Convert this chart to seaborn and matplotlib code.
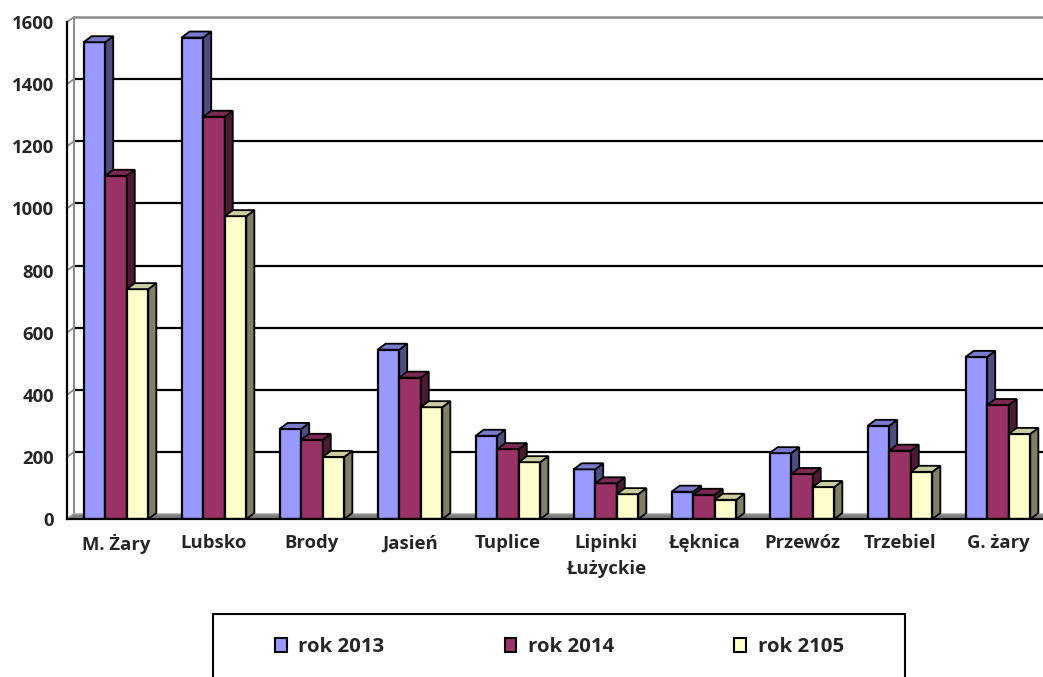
import numpy as np
import pandas as pd
import seaborn as sns
import matplotlib.pyplot as plt
from matplotlib.patches import Polygon, Patch, Rectangle
from matplotlib.transforms import ScaledTranslation

# dane
gminy = ["M. Żary", "Lubsko", "Brody", "Jasień", "Tuplice",
         "Lipinki\nŁużyckie", "Łęknica", "Przewóz", "Trzebiel", "G. żary"]
rok_2013 = [1535, 1550, 290, 545, 268, 160, 88, 212, 300, 522]
rok_2014 = [1105, 1295, 255, 455, 225, 115, 78, 145, 220, 367]
rok_2105 = [740, 975, 200, 360, 183, 80, 62, 103, 152, 274]
serie = ["rok 2013", "rok 2014", "rok 2105"]
y_ticks = [0, 200, 400, 600, 800, 1000, 1200, 1400, 1600]

df = pd.DataFrame({
    "gmina": gminy * 3,
    "seria": [s for s in serie for _ in gminy],
    "wartosc": rok_2013 + rok_2014 + rok_2105,
})

front = ["#9999FF", "#993366", "#FFFFCC"]
side = ["#4D4D80", "#4D1A33", "#808066"]
top = ["#7A7ACC", "#7A2952", "#CCCCA3"]

sns.set_style("white")
plt.rcParams["font.family"] = ["Open Sans", "DejaVu Sans"]
plt.rcParams["font.weight"] = "bold"
fs = 13.3
fs_leg = 14.7

fig = plt.figure(figsize=(10.43, 6.77), dpi=100)
ax = fig.add_axes([67 / 1043, 158 / 677, 980 / 1043, 497 / 677])

sns.barplot(data=df, x="gmina", y="wartosc", hue="seria", palette=front,
            width=0.66, gap=0, edgecolor="black", linewidth=1.6,
            saturation=1, legend=False, ax=ax)
ax.set_xlim(-0.5, len(gminy) - 0.5)
ax.set_ylim(0, 1600)


def px_to_data(dxp, dyp):
    p0 = ax.transData.transform((0, 0))
    p1 = ax.transData.inverted().transform(p0 + np.array([dxp, dyp]))
    return p1[0], p1[1]


# 3D: bok i gora slupkow
bdx, bdy = px_to_data(8, 6)
n = len(gminy)
for i, p in enumerate(list(ax.patches)):
    h_idx = i // n
    x, w, h = p.get_x(), p.get_width(), p.get_height()
    z = 3 + h_idx
    p.set_zorder(z)
    s = Polygon([(x + w, 0), (x + w + bdx, bdy), (x + w + bdx, h + bdy), (x + w, h)],
                closed=True, facecolor=side[h_idx], edgecolor="black", lw=1.3, zorder=z)
    t = Polygon([(x, h), (x + bdx, h + bdy), (x + w + bdx, h + bdy), (x + w, h)],
                closed=True, facecolor=top[h_idx], edgecolor="black", lw=1.3, zorder=z)
    ax.add_patch(s)
    ax.add_patch(t)

# sciana tylna, siatka, podloga
wdx, wdy = px_to_data(7, 5)
back = ax.transData + ScaledTranslation(7 / 100, 5 / 100, fig.dpi_scale_trans)
x0, x1 = ax.get_xlim()
for v in y_ticks[1:-1]:
    ax.plot([x0, x1], [v, v], transform=back, color="black", lw=1.6,
            zorder=1, clip_on=False)
ax.plot([x0, x1], [1600, 1600], transform=back, color="#8C8C8C", lw=1.8,
        zorder=1, clip_on=False)
ax.plot([x0, x0], [0, 1600], transform=back, color="#8C8C8C", lw=1.5,
        zorder=1, clip_on=False)
for v in y_ticks:
    ax.plot([x0, x0 + wdx], [v, v + wdy], color="#8C8C8C", lw=1.3,
            zorder=1.5, clip_on=False)
floor = Polygon([(x0, 0), (x1, 0), (x1 + wdx, wdy), (x0 + wdx, wdy)], closed=True,
                facecolor="#808080", edgecolor="#A0A0A0", lw=1, zorder=1.5,
                clip_on=False)
ax.add_patch(floor)

# osie
for sp in ["top", "right"]:
    ax.spines[sp].set_visible(False)
for sp in ["left", "bottom"]:
    ax.spines[sp].set_color("black")
    ax.spines[sp].set_linewidth(1.6)
    ax.spines[sp].set_zorder(6)

ax.set_yticks(y_ticks)
ax.set_yticklabels([str(v) for v in y_ticks], fontsize=fs, fontweight="bold")
ax.tick_params(axis="y", direction="out", length=6.5, width=1.5, color="black", pad=3)

ax.set_xticks(np.arange(-0.5, n, 1.0))
ax.set_xticklabels([])
ax.set_xticks(np.arange(n), minor=True)
ax.set_xticklabels(gminy, minor=True, fontsize=fs, fontweight="bold", linespacing=1.55)
ax.tick_params(axis="x", which="major", direction="out", length=5, width=1.5, color="black")
ax.tick_params(axis="x", which="minor", length=0, pad=11)
ax.set_xlabel("")
ax.set_ylabel("")
ax.grid(False)

# legenda
fig.add_artist(Rectangle((213 / 1043, -0.05), (905 - 213) / 1043, (677 - 614) / 677 + 0.05,
                         transform=fig.transFigure, facecolor="white",
                         edgecolor="black", lw=1.5))
handles = [Patch(facecolor=c, edgecolor="black", lw=1.5) for c in front]
fig.legend(handles, serie, loc="center left", bbox_to_anchor=(275 / 1043, 1 - 647 / 677),
           ncol=3, frameon=False, borderpad=0, borderaxespad=0,
           handlelength=0.58, handleheight=0.68, handletextpad=0.55, columnspacing=5.9,
           prop={"weight": "bold", "size": fs_leg})

fig.savefig("out.png", dpi=100)
